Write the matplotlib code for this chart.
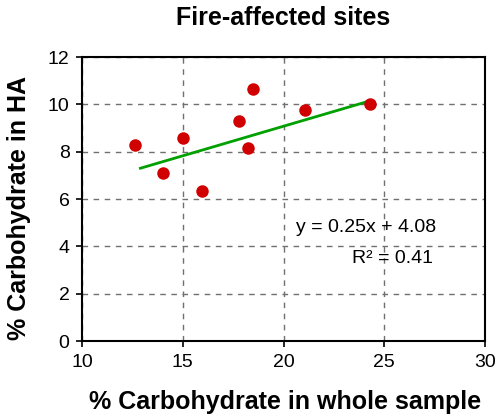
import numpy as np
import matplotlib.pyplot as plt

## data
carb_whole = [12.65, 14.0, 15.0, 15.95, 17.8, 18.25, 18.5, 21.05, 24.3]
carb_ha = [8.3, 7.1, 8.6, 6.35, 9.3, 8.15, 10.65, 9.75, 10.0]
slope, intercept = 0.25, 4.08
line_x = [12.9, 24.2]
xticks = [10, 15, 20, 25, 30]
yticks = [0, 2, 4, 6, 8, 10, 12]

plt.rcParams['font.family'] = ['Liberation Sans', 'DejaVu Sans']

fig = plt.figure(figsize=(5.0, 4.17), dpi=100)
ax = fig.add_axes([0.164, 0.182, 0.806, 0.681])

# trend line
lx = np.array(line_x)
ax.plot(lx, slope * lx + intercept, color="#00a000", lw=2, zorder=3)
ax.plot(carb_whole, carb_ha, "o", color="#d00000", ms=9, mec="none", zorder=4)

ax.set_xlim(10, 30)
ax.set_ylim(0, 12)
ax.set_xticks(xticks)
ax.set_yticks(yticks)
ax.grid(True, ls=(0, (4, 4)), color="#707070", lw=1)
ax.set_axisbelow(True)
for s in ax.spines.values():
    s.set_color("black")
    s.set_linewidth(1.5)
ax.tick_params(labelsize=14, length=4, width=1.2, direction="out")
ax.tick_params(axis="x", pad=5)
ax.tick_params(axis="y", pad=5)

ax.text(24.1, 4.8, "y = 0.25x + 4.08", fontsize=14, ha="center", va="center")
ax.text(25.4, 3.5, "R² = 0.41", fontsize=14, ha="center", va="center")

fig.text(0.566, 1 - 18 / 417, "Fire-affected sites", fontsize=18, fontweight="bold",
         ha="center", va="center")
fig.text(0.57, 1 - 402 / 417, "% Carbohydrate in whole sample", fontsize=18,
         fontweight="bold", ha="center", va="center")
fig.text(19 / 500, 0.5, "% Carbohydrate in HA", fontsize=18, fontweight="bold",
         ha="center", va="center", rotation=90)

fig.savefig("out.png", dpi=100)
